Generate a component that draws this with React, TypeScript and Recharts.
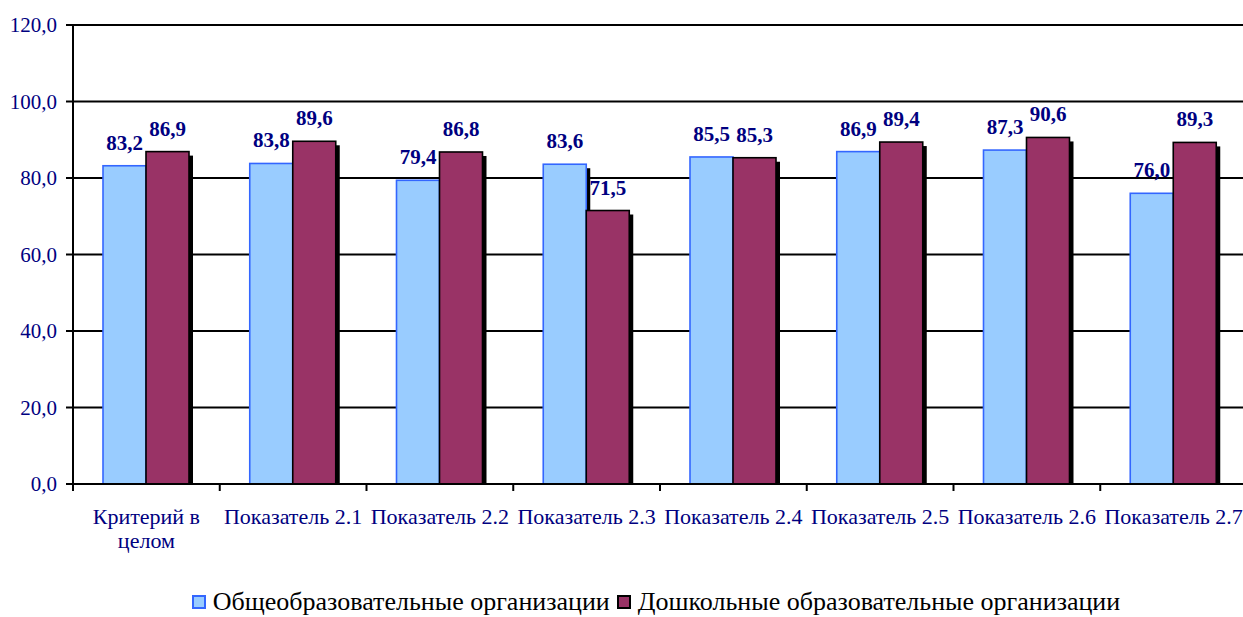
import React from "react";
import {
  BarChart,
  Bar,
  XAxis,
  YAxis,
  CartesianGrid,
  Legend,
  LabelList,
} from "recharts";

const categories = [
  "Критерий в целом",
  "Показатель 2.1",
  "Показатель 2.2",
  "Показатель 2.3",
  "Показатель 2.4",
  "Показатель 2.5",
  "Показатель 2.6",
  "Показатель 2.7",
];
const general = [83.2, 83.8, 79.4, 83.6, 85.5, 86.9, 87.3, 76.0];
const preschool = [86.9, 89.6, 86.8, 71.5, 85.3, 89.4, 90.6, 89.3];
const yTicks = [0, 20, 40, 60, 80, 100, 120];

const seriesNames = [
  "Общеобразовательные организации",
  "Дошкольные образовательные организации",
];

const data = categories.map((name, i) => ({
  name,
  general: general[i],
  preschool: preschool[i],
}));

const W = 1247;
const H = 617;
const LEFT = 73;
const BAND = (W - LEFT) / categories.length;
const FONT = "'Times New Roman', 'Liberation Serif', serif";
const NAVY = "#000080";

const fmt = (v: number) => v.toFixed(1).replace(".", ",");

// long category names go on two lines, last word below
function splitLabel(s: string) {
  if (s.length <= 14) return [s];
  const words = s.split(" ");
  return [words.slice(0, -1).join(" "), words[words.length - 1]];
}

function ShadowBar(props: any) {
  const { x, y, width, height, fill, stroke } = props;
  if (!height || height <= 0) return null;
  return (
    <g>
      <rect x={x + 4} y={y + 4} width={width} height={height - 4} fill="#000" />
      <rect
        x={x}
        y={y}
        width={width}
        height={height}
        fill={fill}
        stroke={stroke}
        strokeWidth={1.6}
      />
    </g>
  );
}

function XTick(props: any) {
  const { x, y, payload } = props;
  const lines = splitLabel(String(payload.value));
  return (
    <g>
      <line x1={x - BAND / 2} y1={y} x2={x - BAND / 2} y2={y + 7} stroke="#000" strokeWidth={2} />
      <text x={x} y={y + 40} textAnchor="middle" fill={NAVY} fontSize={22} fontFamily={FONT}>
        {lines.map((l, i) => (
          <tspan key={i} x={x} dy={i === 0 ? 0 : 24}>
            {l}
          </tspan>
        ))}
      </text>
    </g>
  );
}

function LegendBox() {
  const items = [
    { name: seriesNames[0], fill: "#99CCFF", stroke: "#3366FF" },
    { name: seriesNames[1], fill: "#993366", stroke: "#000" },
  ];
  return (
    <div
      style={{
        display: "flex",
        justifyContent: "center",
        alignItems: "center",
        fontFamily: FONT,
        fontSize: 26,
        color: "#000",
        paddingLeft: 72,
        marginTop: 10,
      }}
    >
      {items.map((it) => (
        <span key={it.name} style={{ display: "flex", alignItems: "center", marginRight: 7 }}>
          <span
            style={{
              display: "inline-block",
              width: 10,
              height: 10,
              background: it.fill,
              border: `2px solid ${it.stroke}`,
              marginRight: 7,
            }}
          />
          {it.name}
        </span>
      ))}
    </div>
  );
}

const labelStyle = { fill: NAVY, fontSize: 21, fontWeight: "bold" as const, fontFamily: FONT };

export default function App() {
  return (
    <div
      style={{
        position: "absolute",
        left: 0,
        top: 0,
        width: 1243,
        height: H,
        overflow: "hidden",
        background: "#fff",
      }}
    >
      <BarChart
        width={W}
        height={H}
        data={data}
        margin={{ top: 25, right: 0, left: 0, bottom: 0 }}
        barGap={0}
        barSize={43}
      >
        <CartesianGrid vertical={false} stroke="#000" strokeWidth={2} />
        <XAxis
          dataKey="name"
          height={93}
          interval={0}
          tickSize={0}
          tickMargin={0}
          axisLine={{ stroke: "#000", strokeWidth: 2 }}
          tick={<XTick />}
        />
        <YAxis
          width={LEFT}
          domain={[0, 120]}
          ticks={yTicks}
          tickFormatter={fmt}
          tickSize={7}
          tickMargin={9}
          axisLine={{ stroke: "#000", strokeWidth: 2 }}
          tickLine={{ stroke: "#000", strokeWidth: 2 }}
          tick={{ fill: NAVY, fontSize: 21, fontFamily: FONT }}
        />
        <Legend verticalAlign="bottom" height={40} content={<LegendBox />} />
        <Bar
          dataKey="general"
          name={seriesNames[0]}
          fill="#99CCFF"
          stroke="#3366FF"
          shape={<ShadowBar />}
          isAnimationActive={false}
        >
          <LabelList
            dataKey="general"
            position="top"
            offset={16}
            formatter={(v: any) => fmt(Number(v))}
            style={labelStyle}
          />
        </Bar>
        <Bar
          dataKey="preschool"
          name={seriesNames[1]}
          fill="#993366"
          stroke="#000"
          shape={<ShadowBar />}
          isAnimationActive={false}
        >
          <LabelList
            dataKey="preschool"
            position="top"
            offset={16}
            formatter={(v: any) => fmt(Number(v))}
            style={labelStyle}
          />
        </Bar>
      </BarChart>
    </div>
  );
}
